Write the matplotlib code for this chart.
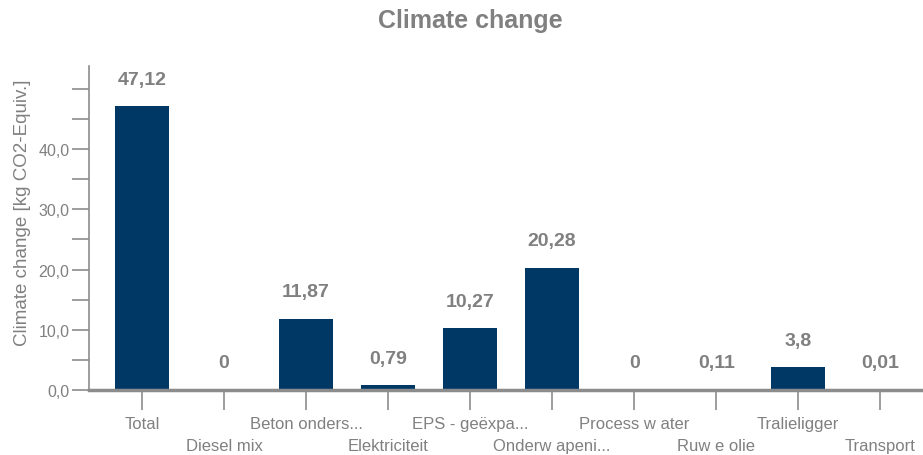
import matplotlib.pyplot as plt
from matplotlib.ticker import FixedLocator, FuncFormatter
from matplotlib.transforms import ScaledTranslation

plt.rcParams["font.family"] = ["Liberation Sans", "DejaVu Sans"]

categories = ["Total", "Diesel mix", "Beton onders...", "Elektriciteit",
              "EPS - geëxpa...", "Onderw apeni...", "Process w ater",
              "Ruw e olie", "Tralieligger", "Transport"]
values = [47.12, 0, 11.87, 0.79, 10.27, 20.28, 0, 0.11, 3.8, 0.01]
value_labels = ["47,12", "0", "11,87", "0,79", "10,27", "20,28", "0", "0,11", "3,8", "0,01"]

bar_color = "#003865"
grey = "#808080"
axis_grey = "#8c8c8c"

fig = plt.figure(figsize=(9.23, 4.56), dpi=100)
ax = fig.add_axes([0.0964, 0.1425, 0.9036, 0.7105])

x = range(len(categories))
ax.bar(x, values, width=0.66, color=bar_color)

for i, (v, lab) in enumerate(zip(values, value_labels)):
    ax.annotate(lab, (i, v), xytext=(0, 19.5), textcoords="offset points",
                ha="center", va="center", fontsize=14, fontweight="bold", color=grey)

ax.set_xlim(-0.646, 9.52)
ax.set_ylim(0, 53.8)

# y axis: labelled majors every 10, unlabelled ticks every 5 up to 50
ax.yaxis.set_major_locator(FixedLocator([0, 10, 20, 30, 40]))
ax.yaxis.set_minor_locator(FixedLocator([5, 15, 25, 35, 45, 50]))
ax.yaxis.set_major_formatter(FuncFormatter(lambda v, p: f"{v:.1f}".replace(".", ",")))
ax.tick_params(axis="y", which="both", direction="out", length=12, width=1.2,
               color=axis_grey, labelcolor=grey, labelsize=11.5, pad=2)

ax.set_xticks(list(x))
ax.set_xticklabels(categories)
ax.tick_params(axis="x", direction="out", length=14.5, width=1.2, color=axis_grey,
               labelcolor=grey, labelsize=12, pad=4)
# every second category label sits on a lower row
for i, lab in enumerate(ax.get_xticklabels()):
    if i % 2 == 1:
        lab.set_transform(lab.get_transform() + ScaledTranslation(0, -0.22, fig.dpi_scale_trans))

for side in ["top", "right"]:
    ax.spines[side].set_visible(False)
ax.spines["left"].set_color(axis_grey)
ax.spines["left"].set_linewidth(1.2)
ax.spines["bottom"].set_color(axis_grey)
ax.spines["bottom"].set_linewidth(2.5)

ax.set_ylabel("Climate change [kg CO2-Equiv.]", fontsize=13.5, color=grey)
ax.yaxis.set_label_coords(-0.07, 0.55)

fig.text(0.51, 0.955, "Climate change", ha="center", va="center",
         fontsize=18, fontweight="bold", color=grey)

fig.savefig("out.png", dpi=100)
